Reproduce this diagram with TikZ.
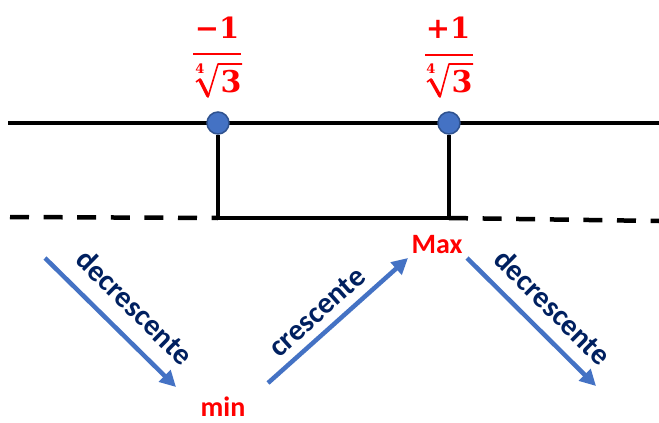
\documentclass[tikz,border=0pt]{standalone}
\usepackage{fontspec}
\setsansfont{Carlito}
\newfontfamily\numfont{DejaVu Serif}
\usetikzlibrary{arrows.meta}
\definecolor{dotblue}{HTML}{4472C4}
\definecolor{dotedge}{HTML}{2F528F}
\definecolor{navy}{HTML}{002060}
\definecolor{lblred}{HTML}{FF0000}
\begin{document}
\begin{tikzpicture}[x=1pt,y=-1pt,
  axisline/.style={line width=4.5pt,black},
  dashline/.style={line width=4.5pt,black,dash pattern=on 19pt off 14.6pt},
  dot/.style={circle,fill=dotblue,draw=dotedge,line width=1.5pt,minimum size=22pt,inner sep=0pt},
  trend/.style={line width=4.5pt,dotblue,-{Triangle[length=16pt,width=16pt]}},
  trendtext/.style={text=navy,font=\sffamily\bfseries\fontsize{30}{34}\selectfont,inner sep=0pt},
  extremum/.style={text=lblred,font=\sffamily\bfseries\fontsize{28}{30}\selectfont,inner sep=0pt},
  numtext/.style={text=lblred,font=\numfont\bfseries\fontsize{29}{31}\selectfont,inner sep=0pt},
  dentext/.style={text=lblred,font=\numfont\bfseries\fontsize{30}{32}\selectfont,inner sep=0pt},
  idxtext/.style={text=lblred,font=\numfont\bfseries\fontsize{13}{14}\selectfont,inner sep=0pt},
  fracbar/.style={draw=lblred,line width=2.6pt},
  radthin/.style={draw=lblred,line width=1.6pt,line join=round},
  radthick/.style={draw=lblred,line width=3.4pt}]
\useasboundingbox (0,0) rectangle (659,423);
% axis
\coordinate (L) at (8,123);
\coordinate (R) at (659,123);
\draw[axisline] (L) -- (R);
\coordinate (b1) at (218,218);
\coordinate (b2) at (449,218);
\coordinate (DL) at (10,217);
\coordinate (DR) at (659,221);
\draw[dashline] (DL) -- (b1);
\draw[dashline] (b2) -- (DR);
\node[dot] (p1) at (218,123) {};
\node[dot] (p2) at (449,123) {};
\draw[axisline,line join=miter] (p1.south) -- (b1) -- (b2) -- (p2.south);
% fraction -1 / fourth root of 3
\node[numtext] (n1) at (217,28) {−1};
\draw[fracbar] (193,54) -- (241,54);
\node[dentext] (d1) at (231,82) {3};
\node[idxtext] (i1) at (200,69) {4};
\draw[radthin] (196,82) -- (200,79) -- (208,97) -- (218,64) -- (242,64);
\draw[radthick] (200,80) -- (208,96);
% fraction +1 / fourth root of 3
\node[numtext] (n2) at (448,28) {+1};
\draw[fracbar] (425,55) -- (473,55);
\node[dentext] (d2) at (462,82) {3};
\node[idxtext] (i2) at (431,69) {4};
\draw[radthin] (427,82) -- (431,79) -- (440,97) -- (449,64) -- (473,64);
\draw[radthick] (431,80) -- (440,96);
% arrows
\coordinate (a1s) at (45,258);
\coordinate (a1e) at (176,387);
\coordinate (a2s) at (268,383);
\coordinate (a2e) at (408,258);
\coordinate (a3s) at (467,258);
\coordinate (a3e) at (596,386);
\draw[trend] (a1s) -- (a1e);
\draw[trend] (a2s) -- (a2e);
\draw[trend] (a3s) -- (a3e);
\node[trendtext,rotate=-44.6] (t1) at (135,307) {decrescente};
\node[trendtext,rotate=41.8] (t2) at (317,312) {crescente};
\node[trendtext,rotate=-44.8] (t3) at (553,307) {decrescente};
\node[extremum] (mn) at (223,407) {min};
\node[extremum] (mx) at (437,245) {Max};
\end{tikzpicture}
\end{document}
